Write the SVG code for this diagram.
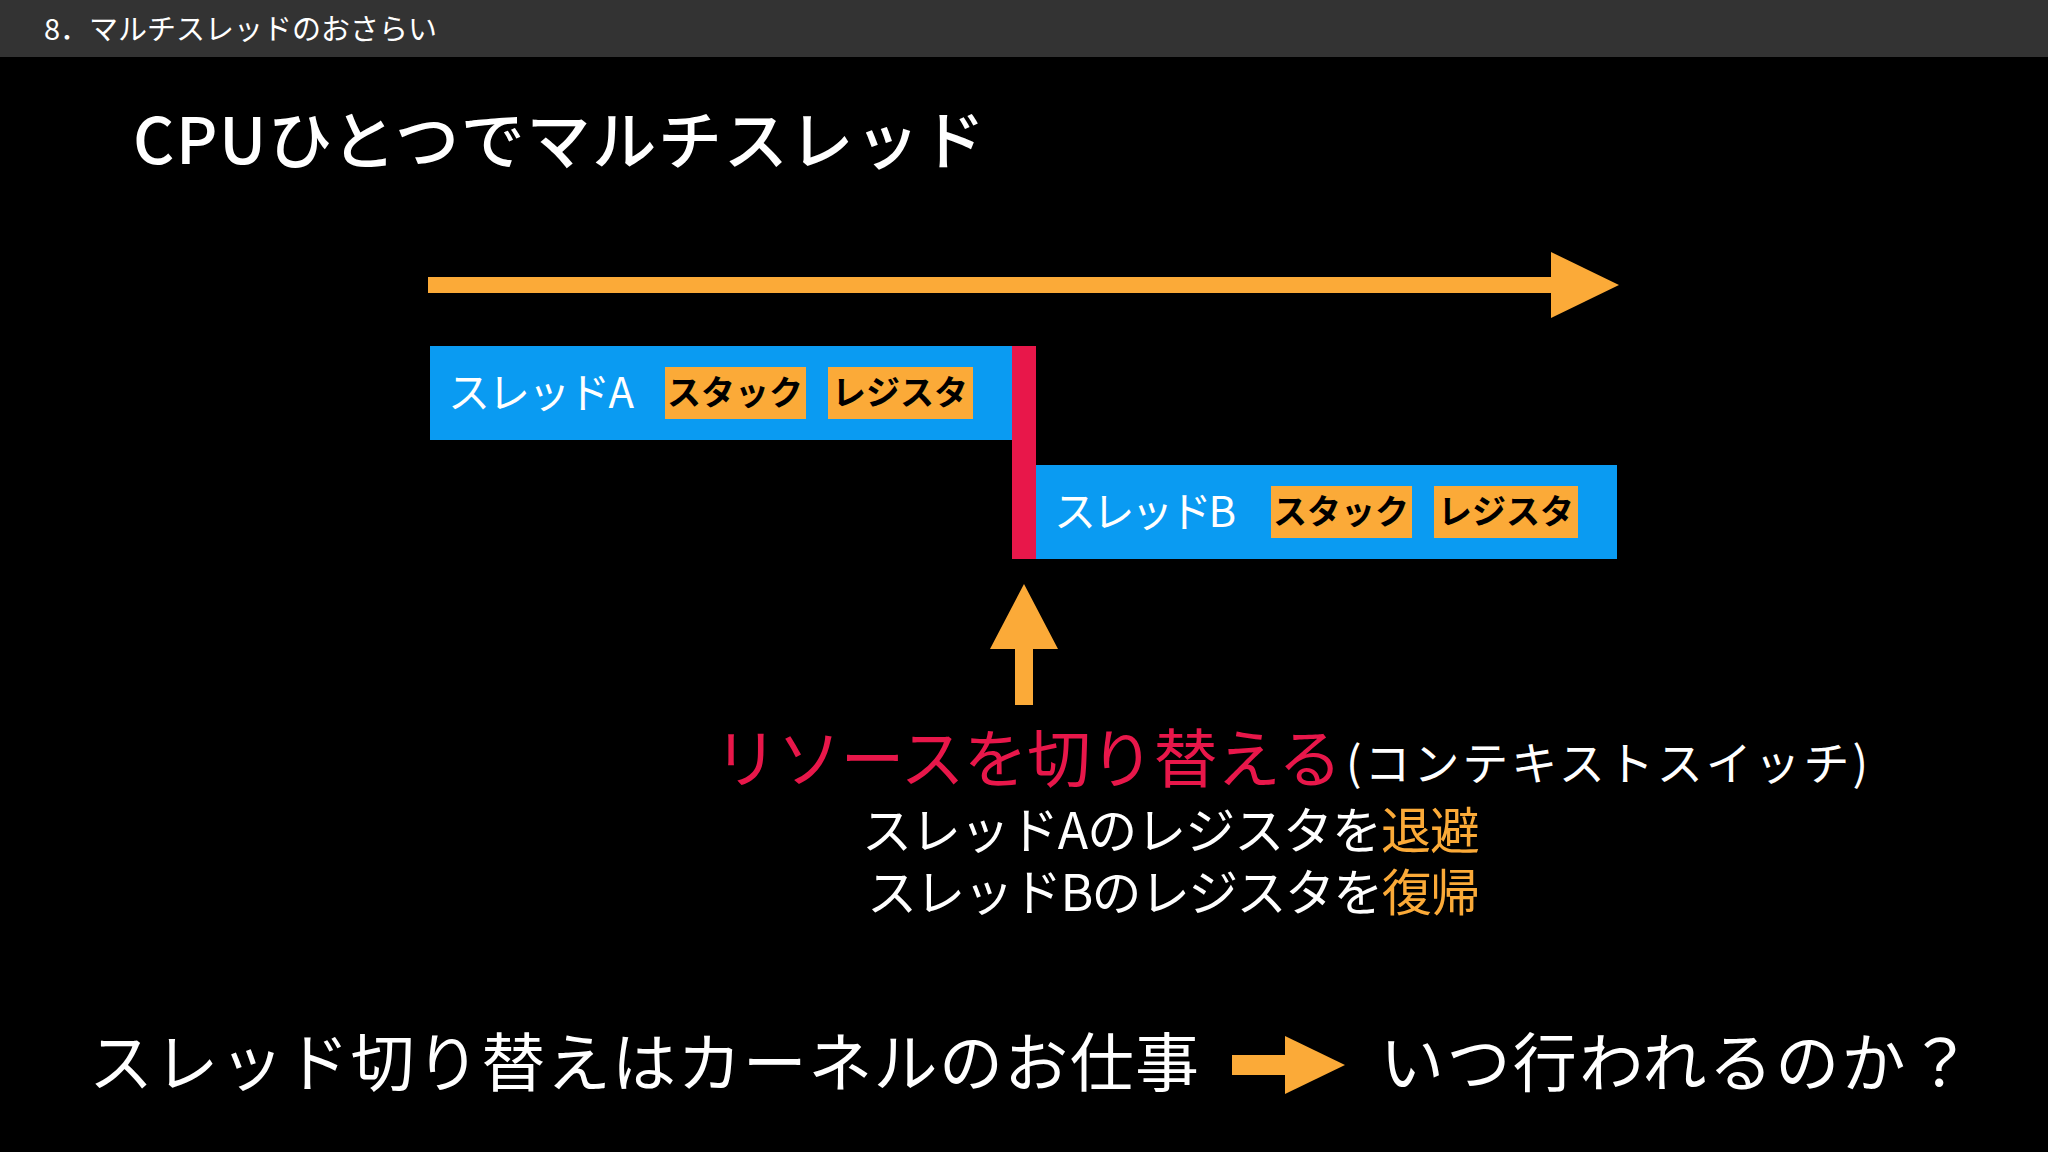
<svg xmlns="http://www.w3.org/2000/svg" width="2048" height="1152" viewBox="0 0 2048 1152">
<style>
text{font-family:"Noto Sans CJK JP","Noto Sans",sans-serif;fill:#fff}
.blue{fill:#0a9bf2}
.or{fill:#fbaa38}
.tag{font-size:34px;font-weight:bold;fill:#000}
.th{font-size:42px}
</style>
<rect width="2048" height="1152" fill="#000"/>
<rect width="2048" height="57" fill="#333"/>
<text x="44" y="40" font-size="29">8．マルチスレッドのおさらい</text>
<text x="133" y="164" font-size="64" font-weight="500" textLength="852">CPUひとつでマルチスレッド</text>
<g id="timeline">
<rect x="428" y="277" width="1130" height="16" class="or"/>
<polygon points="1551,252 1619,285 1551,318" class="or"/>
</g>
<g id="threadA">
<rect x="430" y="346" width="583" height="94" class="blue"/>
<text x="448" y="408" class="th" textLength="186">スレッドA</text>
<rect x="665" y="367" width="141" height="52" class="or"/>
<text x="735" y="405" class="tag" text-anchor="middle">スタック</text>
<rect x="828" y="367" width="145" height="52" class="or"/>
<text x="900" y="405" class="tag" text-anchor="middle">レジスタ</text>
</g>
<g id="switch"><rect x="1012" y="346" width="24" height="213" fill="#e8174a"/></g>
<g id="threadB">
<rect x="1036" y="465" width="581" height="94" class="blue"/>
<text x="1054" y="527" class="th" textLength="182">スレッドB</text>
<rect x="1271" y="486" width="141" height="52" class="or"/>
<text x="1341" y="524" class="tag" text-anchor="middle">スタック</text>
<rect x="1434" y="486" width="144" height="52" class="or"/>
<text x="1506" y="524" class="tag" text-anchor="middle">レジスタ</text>
</g>
<g id="connectors">
<polygon points="1024,584 1058,649 1033,649 1033,705 1015,705 1015,649 990,649" class="or"/>
<rect x="1232" y="1055" width="60" height="20" class="or"/>
<polygon points="1285,1036 1345,1065 1285,1094" class="or"/>
</g>
<g id="label">
<text x="714" y="782" font-size="64" fill="#e8174a" style="fill:#e8174a" textLength="628">リソースを切り替える</text>
<text x="1346" y="780" font-size="46" textLength="522">(コンテキストスイッチ)</text>
<text x="862" y="849" font-size="50" textLength="618">スレッドAのレジスタを<tspan class="or">退避</tspan></text>
<text x="867" y="911" font-size="50" textLength="613">スレッドBのレジスタを<tspan class="or">復帰</tspan></text>
</g>
<text x="89" y="1086" font-size="64" textLength="1110">スレッド切り替えはカーネルのお仕事</text>
<text x="1380" y="1086" font-size="64" textLength="592">いつ行われるのか？</text>
</svg>
